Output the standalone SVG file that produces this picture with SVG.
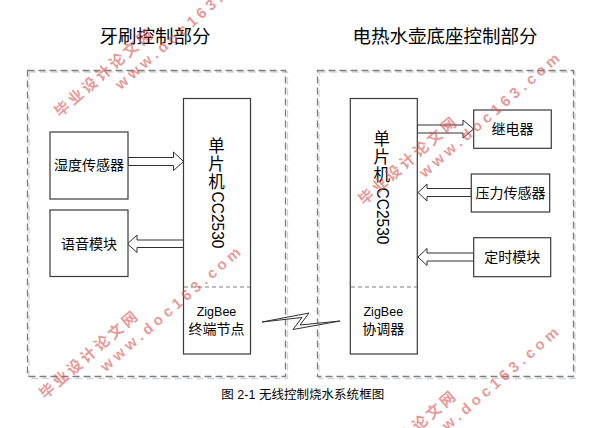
<svg xmlns="http://www.w3.org/2000/svg" xmlns:xlink="http://www.w3.org/1999/xlink" width="616" height="428" viewBox="0 0 616 428">
<style>
.bg{fill:#ffffff}
.cont{fill:none;stroke:#7f7f7f;stroke-width:1.3;stroke-dasharray:7 4}
.contsh{fill:none;stroke:#d0d4da;stroke-width:1.3;stroke-dasharray:7 4}
.box{fill:#ffffff;stroke:#3a3a3a;stroke-width:1.2}
.div{fill:none;stroke:#808080;stroke-width:1.2;stroke-dasharray:4 3}
.arr{fill:#ffffff;stroke:#303030;stroke-width:1}
.t{font-family:"Liberation Sans","Noto Sans CJK SC",sans-serif;fill:#000;text-anchor:middle;dominant-baseline:central}
.title{font-size:18.5px}
.lbl{font-size:14px}
.mcu{font-size:16.5px}
.zb{font-size:12.5px}
.cap{font-size:12.5px}
.wm{font-family:"Liberation Sans","Noto Sans CJK SC",sans-serif;fill:#d9534f;fill-opacity:0.6;font-size:15px;font-weight:bold}
</style>
<defs>
<g id="wmark">
<text class="wm" x="-8" y="6" textLength="124" lengthAdjust="spacing">毕业设计论文网</text>
<text class="wm" x="56" y="25" textLength="180" lengthAdjust="spacing">www.doc163.com</text>
</g>
</defs>
<rect class="bg" x="0" y="0" width="616" height="428"/>

<g id="titles">
<text class="t title" x="155" y="36">牙刷控制部分</text>
<text class="t title" x="445" y="36">电热水壶底座控制部分</text>
</g>

<g id="container-left">
<rect class="contsh" x="29" y="72" width="258.5" height="306.5"/>
<rect class="cont" x="27.5" y="70.5" width="258" height="306"/>
</g>
<g id="container-right">
<rect class="contsh" x="319" y="72" width="256" height="306.5"/>
<rect class="cont" x="317.5" y="70.5" width="256" height="306"/>
</g>

<g id="connectors">
<path class="arr" d="M128,157.5 H173.5 V152 L183.5,161.5 L173.5,170.5 V165.5 H128 Z"/>
<path class="arr" d="M183.5,240 H137 V235 L127.5,243.8 L137,252.5 V247.5 H183.5 Z"/>
<path class="arr" d="M417.3,125 H463 V120 L473.5,129 L463,138 V133 H417.3 Z"/>
<path class="arr" d="M471.3,188.5 H427 V184 L418,192.5 L427,201 V196.5 H471.3 Z"/>
<path class="arr" d="M473.7,253 H427 V248.5 L418,257 L427,265.5 V261 H473.7 Z"/>
<path class="arr" d="M262,322 L309,313 L300,325 L340,321 L293,329.5 L302,317.5 Z" stroke-width="0.9"/>
</g>

<g id="mcu-left">
<rect class="box" x="183.5" y="98.5" width="67" height="255.5"/>
<line class="div" x1="184" y1="287" x2="250" y2="287"/>
<text class="t mcu" x="216.5" y="146">单</text>
<text class="t mcu" x="216.5" y="164">片</text>
<text class="t mcu" x="216.5" y="182">机</text>
<text class="t mcu" transform="translate(217.5,220) rotate(90)" x="0" y="0" textLength="57" lengthAdjust="spacingAndGlyphs">CC2530</text>
<text class="t zb" x="216.5" y="312">ZigBee</text>
<text class="t lbl" x="216.5" y="329">终端节点</text>
</g>

<g id="mcu-right">
<rect class="box" x="350.3" y="98.5" width="67" height="255.5"/>
<line class="div" x1="351" y1="287" x2="417" y2="287"/>
<text class="t mcu" x="381.7" y="139">单</text>
<text class="t mcu" x="381.7" y="157">片</text>
<text class="t mcu" x="381.7" y="175">机</text>
<text class="t mcu" transform="translate(382.5,216) rotate(90)" x="0" y="0" textLength="57" lengthAdjust="spacingAndGlyphs">CC2530</text>
<text class="t zb" x="383.3" y="312">ZigBee</text>
<text class="t lbl" x="383.3" y="329">协调器</text>
</g>

<g id="humidity">
<rect class="box" x="50" y="132" width="78" height="67"/>
<text class="t lbl" x="89" y="165">湿度传感器</text>
</g>
<g id="voice">
<rect class="box" x="50" y="210" width="78" height="66.5"/>
<text class="t lbl" x="89" y="244">语音模块</text>
</g>
<g id="relay">
<rect class="box" x="473.7" y="110" width="77.6" height="38.3"/>
<text class="t lbl" x="512.5" y="129">继电器</text>
</g>
<g id="pressure">
<rect class="box" x="471.3" y="174" width="78.4" height="38"/>
<text class="t lbl" x="510.5" y="193">压力传感器</text>
</g>
<g id="timer">
<rect class="box" x="473.7" y="237.7" width="77" height="39"/>
<text class="t lbl" x="512.2" y="257">定时模块</text>
</g>

<g id="caption">
<text class="t cap" x="302.7" y="395" textLength="163" lengthAdjust="spacing" xml:space="preserve">图 2-1 无线控制烧水系统框图</text>
</g>

<g id="watermarks">
<use xlink:href="#wmark" transform="translate(62,108) rotate(-41)"/>
<use xlink:href="#wmark" transform="translate(366,196) rotate(-41)"/>
<use xlink:href="#wmark" transform="translate(47,390) rotate(-41)"/>
<use xlink:href="#wmark" transform="translate(365,470) rotate(-41)"/>
</g>
</svg>
